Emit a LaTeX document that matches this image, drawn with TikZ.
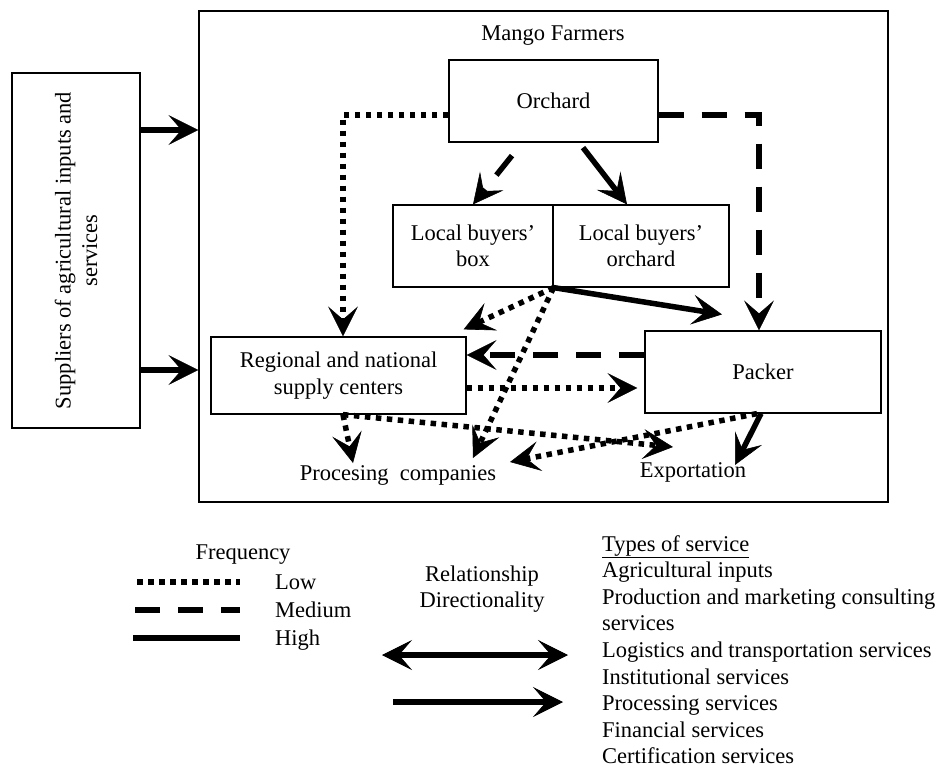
\documentclass[tikz,border=0pt]{standalone}
\usepackage{fontspec}
\setmainfont{Liberation Serif}
\usetikzlibrary{arrows.meta,calc}
\begin{document}
\begin{tikzpicture}[x=1pt,y=-1pt,
  >={Stealth[length=30pt,width=30pt,inset=13pt,line width=0.6pt]},
  every node/.style={font=\fontsize{22.5}{26.5}\selectfont},
  box/.style={draw, line width=1.2pt, align=center, inner sep=0pt},
  lowln/.style={line width=5.5pt, dash pattern=on 5.5pt off 5.5pt},
  medln/.style={line width=5.5pt, dash pattern=on 25pt off 18pt},
  highln/.style={line width=5.5pt},
]
\useasboundingbox (0,0) rectangle (938,769);

% nodes
\node[box, minimum width=128pt, minimum height=355pt] (sup) at (76,250.5) {};
\node[rotate=90, align=center] (suptext) at (sup.center) {Suppliers of agricultural inputs and\\services};
\node[box, minimum width=689pt, minimum height=491pt] (farm) at (543.5,256.5) {};
\node (farmlbl) at (553,36) {Mango Farmers};
\node[box, minimum width=209pt, minimum height=82pt] (orch) at (553.5,101) {Orchard};
\node[box, minimum width=160pt, minimum height=82pt] (lbbox) at (473,246) {Local buyers’\\box};
\node[box, minimum width=176pt, minimum height=82pt] (lborch) at (641,246) {Local buyers’\\orchard};
\node[box, minimum width=255pt, minimum height=77pt] (reg) at (338.5,375.5) {Regional and national\\supply centers};
\node[box, minimum width=236pt, minimum height=82pt] (pack) at (763,372) {Packer};
\node (proc) at (398,475) {Procesing~~companies};
\node (exp) at (693,472) {Exportation};

% supplier arrows
\draw[highln,->] (sup.east |- 0,130) -- (farm.west |- 0,130);
\draw[highln,->] (sup.east |- 0,370) -- (farm.west |- 0,370);

% orchard connectors
\draw[lowln,->] (orch.west |- 0,115) -| (reg.north -| 343,0);
\draw[medln,->] (orch.east |- 0,115) -| (pack.north -| 759,0);
\coordinate (c1) at ($(orch.south)+(-41.5,13)$);
\draw[medln,->] (c1) -- (lbbox.north);
\coordinate (c2) at ($(orch.south)+(29.5,5)$);
\draw[highln,->] (c2) -- ($(lborch.north)+(-14,0)$);

% from local buyers junction
\draw[highln,->] (lbbox.south east) -- ($(pack.north)+(-41,-16)$);
\draw[lowln,->] (lbbox.south east) -- ($(reg.north east)+(-3,-7)$);
\draw[lowln,->] (lbbox.south east) -- ($(proc.center)+(75,-17)$);

% regional <-> packer
\draw[medln,->] (pack.west |- 0,355) -- (reg.east |- 0,355);
\draw[lowln,->] (reg.east |- 0,388) -- ($(pack.west |- 0,388)+(-7,0)$);

% lower connectors
\coordinate (rb) at (reg.south -| 343,0);
\draw[lowln,->] (rb) -- ($(proc.center)+(-45,-12)$);
\draw[lowln,->] (rb) -- ($(exp.center)+(-20,-25)$);
\draw[lowln,->] (pack.south -| 757,0) -- ($(proc.center)+(112,-13)$);
\draw[highln,->] (pack.south -| 761,0) -- ($(exp.center)+(42,-7)$);

% legend: frequency
\node (freq) at (243,555) {Frequency};
\node[anchor=base west, inner sep=0pt] (low) at (275,589.5) {Low};
\node[anchor=base west, inner sep=0pt] (med) at (275,617.5) {Medium};
\node[anchor=base west, inner sep=0pt] (high) at (275,645.5) {High};
\coordinate (la) at (137,582); \coordinate (lb) at (240,582);
\coordinate (ma) at (135,610); \coordinate (mb) at (240,610);
\coordinate (ha) at (133,638); \coordinate (hb) at (240,638);
\draw[lowln] (la) -- (lb);
\draw[medln] (ma) -- (mb);
\draw[highln] (ha) -- (hb);

% legend: directionality
\node[align=center] (rel) at (482,589) {Relationship\\Directionality};
\coordinate (da) at (382,655); \coordinate (db) at (568,655);
\coordinate (sa) at (393,702); \coordinate (sb) at (563,702);
\draw[highln,<->] (da) -- (db);
\draw[highln,->] (sa) -- (sb);

% legend: types of service
\node[anchor=base west, inner sep=0pt] (t0) at (602,551) {\underline{Types of service}};
\foreach \t [count=\i] in {Agricultural inputs,Production and marketing consulting,services,Logistics and transportation services,Institutional services,Processing services,Financial services,Certification services}
  \node[anchor=base west, inner sep=0pt] (t\i) at (602,551+26.6*\i) {\t};
\end{tikzpicture}
\end{document}
